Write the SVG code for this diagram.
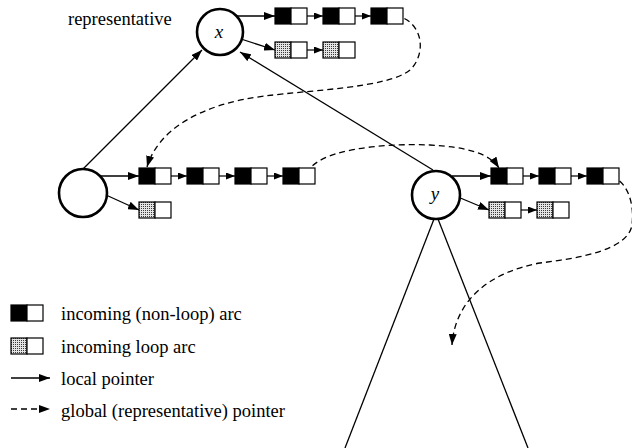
<svg xmlns="http://www.w3.org/2000/svg" width="632" height="448" viewBox="0 0 632 448">
<style>
.c{fill:#fff;stroke:#000;stroke-width:2.6}
.k{fill:#000;stroke:#000;stroke-width:1.2}
.w{fill:#fff;stroke:#000;stroke-width:1.2}
.d{fill:url(#dots);stroke:#000;stroke-width:1.2}
.ln{fill:none;stroke:#000;stroke-width:1.3}
.ar{fill:none;stroke:#000;stroke-width:1.3;marker-end:url(#ah)}
.sa{fill:none;stroke:#000;stroke-width:1.2;marker-end:url(#sh)}
.da{fill:none;stroke:#000;stroke-width:1.3;stroke-dasharray:6 4;marker-end:url(#ah)}
.t{font-family:"Liberation Serif","Times New Roman",serif;font-size:18.5px;fill:#000}
.i{font-family:"Liberation Serif","Times New Roman",serif;font-size:19px;font-style:italic;fill:#000;text-anchor:middle}
</style>
<defs>
<pattern id="dots" width="2" height="2" patternUnits="userSpaceOnUse">
<rect width="2" height="2" fill="#e4e4e4"/>
<rect width="1" height="1" fill="#3a3a3a"/>
</pattern>
<marker id="ah" viewBox="0 0 11 8" refX="11" refY="4" markerWidth="11" markerHeight="8" markerUnits="userSpaceOnUse" orient="auto">
<path d="M0,0 L11,4 L0,8 z" fill="#000"/>
</marker>
<marker id="sh" viewBox="0 0 9 7" refX="9" refY="3.5" markerWidth="9" markerHeight="7" markerUnits="userSpaceOnUse" orient="auto">
<path d="M0,0 L9,3.5 L0,7 z" fill="#000"/>
</marker>
<g id="arcbox"><rect class="k" x="0" y="0" width="16" height="16"/><rect class="w" x="16" y="0" width="16" height="16"/></g>
<g id="loopbox"><rect class="d" x="0" y="0" width="16" height="16"/><rect class="w" x="16" y="0" width="16" height="16"/></g>
</defs>
<rect width="632" height="448" fill="#fff"/>

<text class="t" x="68" y="25">representative</text>

<g id="connectors">
<line class="ar" x1="83" y1="169" x2="202" y2="50"/>
<line class="ar" x1="433" y1="170" x2="240" y2="52"/>
<line class="ln" x1="434" y1="219" x2="345" y2="448"/>
<line class="ln" x1="438" y1="219" x2="528" y2="448"/>
<line class="ar" x1="237" y1="16" x2="275" y2="16"/>
<line class="ar" x1="241" y1="39" x2="275" y2="50"/>
<line class="ar" x1="101" y1="176" x2="139" y2="176"/>
<line class="ar" x1="106" y1="195" x2="139" y2="210"/>
<line class="ar" x1="452" y1="176" x2="491" y2="176"/>
<line class="ar" x1="458" y1="197" x2="489" y2="210"/>
<line class="sa" x1="299" y1="16" x2="323" y2="16"/>
<line class="sa" x1="347" y1="16" x2="371" y2="16"/>
<line class="sa" x1="299" y1="50" x2="323" y2="50"/>
<line class="sa" x1="163" y1="176" x2="187" y2="176"/>
<line class="sa" x1="211" y1="176" x2="235" y2="176"/>
<line class="sa" x1="259" y1="176" x2="283" y2="176"/>
<line class="sa" x1="515" y1="176" x2="539" y2="176"/>
<line class="sa" x1="563" y1="176" x2="587" y2="176"/>
<line class="sa" x1="513" y1="210" x2="537" y2="210"/>
<path class="da" d="M395,15 C425,22 426,55 410,70 C388,88 310,90 265,96 C200,104 158,130 147,167"/>
<path class="da" d="M307,174 C315,150 380,143 430,145 C468,147 490,154 499,168"/>
<path class="da" d="M611,176 C625,180 635,200 632,225 C628,250 580,258 540,263 C490,272 455,300 452,345"/>
</g>

<g id="node-x">
<circle class="c" cx="220" cy="32" r="23"/>
<text class="i" x="219" y="38">x</text>
</g>
<g id="node-left">
<circle class="c" cx="83" cy="193" r="24"/>
</g>
<g id="node-y">
<circle class="c" cx="436" cy="195" r="24"/>
<text class="i" x="435" y="200">y</text>
</g>

<g id="list-x-arcs">
<use href="#arcbox" x="275" y="8"/>
<use href="#arcbox" x="323" y="8"/>
<use href="#arcbox" x="371" y="8"/>
</g>
<g id="list-x-loops">
<use href="#loopbox" x="275" y="42"/>
<use href="#loopbox" x="323" y="42"/>
</g>
<g id="list-left-arcs">
<use href="#arcbox" x="139" y="168"/>
<use href="#arcbox" x="187" y="168"/>
<use href="#arcbox" x="235" y="168"/>
<use href="#arcbox" x="283" y="168"/>
</g>
<g id="list-left-loops">
<use href="#loopbox" x="139" y="202"/>
</g>
<g id="list-y-arcs">
<use href="#arcbox" x="491" y="168"/>
<use href="#arcbox" x="539" y="168"/>
<use href="#arcbox" x="587" y="168"/>
</g>
<g id="list-y-loops">
<use href="#loopbox" x="489" y="202"/>
<use href="#loopbox" x="537" y="202"/>
</g>

<g id="legend">
<use href="#arcbox" x="11" y="305"/>
<text class="t" x="61" y="320">incoming (non-loop) arc</text>
<use href="#loopbox" x="11" y="338"/>
<text class="t" x="61" y="353">incoming loop arc</text>
<line class="ar" x1="11" y1="378" x2="50" y2="378"/>
<text class="t" x="61" y="385">local pointer</text>
<line class="da" x1="11" y1="409" x2="50" y2="409"/>
<text class="t" x="61" y="417">global (representative) pointer</text>
</g>
</svg>
